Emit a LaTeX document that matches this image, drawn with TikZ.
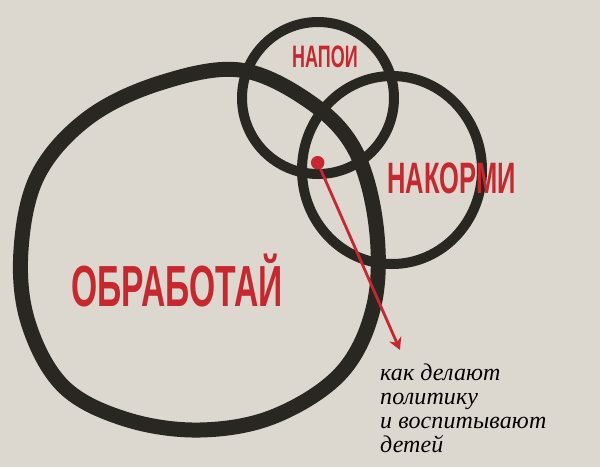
\documentclass[tikz,border=0pt]{standalone}
\usepackage{fontspec}
\usetikzlibrary{arrows.meta}
\definecolor{paper}{RGB}{220,216,207}
\definecolor{ink}{RGB}{40,39,33}
\definecolor{inkred}{RGB}{200,40,45}
\newfontfamily\labelfont[FakeStretch=0.58]{Liberation Sans}
\newfontfamily\notefont[LetterSpace=0.5]{Liberation Serif}
\begin{document}
\begin{tikzpicture}[x=1pt,y=-1pt,
		ring/.style={draw=ink, line width=10pt},
		word/.style={text=inkred, inner sep=0pt, anchor=base west},
	]
	\fill[paper] (0,0) rectangle (600,467);
	\useasboundingbox (0,0) rectangle (600,467);

	% the three rings
	\draw[ring, line width=15pt] plot[smooth cycle, tension=0.6] coordinates {(240,70) (310,102) (355,150) (376,225) (374,305) (342,372) (275,416) (200,430) (125,419) (63,386) (28,322) (21,250) (38,175) (88,118) (160,83)};
	\draw[ring] (318,98) circle [radius=76];
	\draw[ring] (392,170) ellipse [x radius=90, y radius=94];

	\node[word, font=\labelfont\bfseries\fontsize{58}{58}\selectfont] (obrabotai) at (71,306) {ОБРАБОТАЙ};
	\node[word, font=\labelfont\bfseries\fontsize{31}{31}\selectfont] (napoi) at (292,67) {НАПОИ};
	\node[word, font=\labelfont\bfseries\fontsize{44}{44}\selectfont] (nakormi) at (387,193) {НАКОРМИ};

	\node[circle, fill=inkred, inner sep=0pt, minimum size=13.5pt] (dot) at (317.7,162.7) {};
	\coordinate (tip) at (400,350);
	\draw[inkred, line width=2.8pt, -{Stealth[length=12pt,width=13pt]}] (dot) -- (tip);

	\node[anchor=north west, inner sep=0pt, align=left, font=\notefont\itshape\fontsize{24}{24}\selectfont] (note) at (380,364) {как делают\\политику\\и воспитывают\\детей};
\end{tikzpicture}
\end{document}
